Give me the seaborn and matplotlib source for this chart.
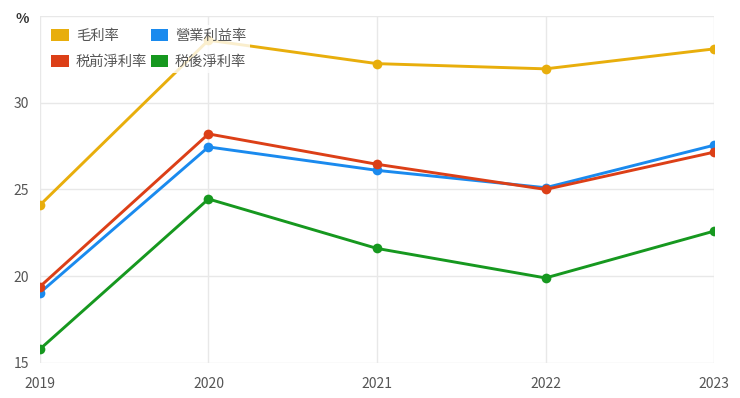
import matplotlib
matplotlib.use("Agg")
import matplotlib.pyplot as plt
from matplotlib.patches import Patch
import seaborn as sns
import pandas as pd

# values (%)
years = [2019, 2020, 2021, 2022, 2023]
gross = [24.1, 33.6, 32.25, 31.95, 33.1]
operating = [19.05, 27.45, 26.1, 25.1, 27.55]
pretax = [19.4, 28.2, 26.45, 25.0, 27.15]
aftertax = [15.8, 24.45, 21.6, 19.9, 22.6]

names = ["毛利率", "營業利益率", "税前淨利率", "税後淨利率"]
colors = ["#E8AE0C", "#1A8AEE", "#DC3F17", "#16981F"]

df = pd.DataFrame({
    "year": years * 4,
    "value": gross + operating + pretax + aftertax,
    "series": [n for n in names for _ in years],
})

sns.set_style("white")
plt.rcParams["font.family"] = ["Noto Sans CJK TC", "DejaVu Sans"]

fig, ax = plt.subplots(figsize=(7.4, 3.98), dpi=100)
fig.subplots_adjust(left=0.054, right=0.965, top=0.96, bottom=0.088)

sns.lineplot(data=df, x="year", y="value", hue="series", hue_order=names,
             palette=colors, marker="o", markersize=7, markeredgewidth=0,
             linewidth=2.1, legend=False, ax=ax)

ax.set_xlim(2019, 2023)
ax.set_ylim(15, 35)
ax.set_xticks(years)
ax.set_yticks([15, 20, 25, 30, 35])
ax.set_yticklabels(["15", "20", "25", "30", ""])
ax.grid(True, color="#e8e8e8", linewidth=1)
ax.set_axisbelow(True)
for s in ax.spines.values():
    s.set_visible(False)
ax.tick_params(axis="both", length=0, labelsize=10, colors="#555555")
ax.tick_params(axis="x", pad=10)
ax.tick_params(axis="y", pad=8)
ax.set_xlabel("")
ax.set_ylabel("")
ax.text(-0.027, 0.99, "%", transform=ax.transAxes, ha="center", va="center",
        fontsize=10, color="#333333", fontweight="semibold")

# legend fills column-wise, so order the handles to give rows like the reference
order = [0, 2, 1, 3]
handles = [Patch(facecolor=colors[i], edgecolor="none") for i in order]
labels = [names[i] for i in order]
leg = ax.legend(handles, labels, ncol=2, loc="upper left",
                bbox_to_anchor=(0.0, 0.995), frameon=True, fontsize=10.3,
                handlelength=1.2, handleheight=0.9, handletextpad=0.5,
                columnspacing=0.25, labelspacing=0.8, borderpad=0.3)
leg.get_frame().set_facecolor("white")
leg.get_frame().set_alpha(0.8)
leg.get_frame().set_edgecolor("none")
for t in leg.get_texts():
    t.set_color("#555555")

fig.savefig("out.png", dpi=100)
